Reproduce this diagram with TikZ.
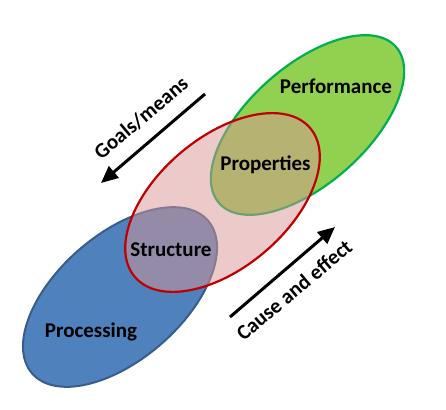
\documentclass[tikz,border=0pt]{standalone}
\usepackage{fontspec}
\setmainfont{Carlito}
\usetikzlibrary{shapes.geometric,arrows.meta}
\definecolor{perfgreen}{RGB}{146,208,80}
\definecolor{perfline}{RGB}{0,176,80}
\definecolor{procblue}{RGB}{79,129,189}
\definecolor{procline}{RGB}{56,93,138}
\definecolor{strucred}{RGB}{217,150,148}
\definecolor{strucline}{RGB}{192,0,0}
\tikzset{
  blob/.style={ellipse, inner sep=0pt, line width=2.2pt},
  lbl/.style={font=\fontsize{21}{25}\selectfont\bfseries, inner sep=0pt},
  bigarrow/.style={line width=3pt, -{Triangle[length=17pt,width=15pt]}}
}
\begin{document}
\begin{tikzpicture}[x=1pt,y=1pt]
\useasboundingbox (0,0) rectangle (446,409);
% ellipses
\node[blob, draw=perfline, fill=perfgreen, minimum width=236pt, minimum height=118pt, rotate=41.5] (perf) at (307.5,284) {};
\node[blob, draw=procline, line width=2pt, fill=procblue, minimum width=233pt, minimum height=125pt, rotate=41] (proc) at (120,112) {};
\node[blob, fill=strucred, fill opacity=0.5, minimum width=230pt, minimum height=130pt, rotate=40.3] (strucfill) at (222.5,206.5) {};
\node[blob, draw=strucline, minimum width=230pt, minimum height=130pt, rotate=40.3] (struc) at (222.5,206.5) {};
% labels
\node[lbl] (tperf) at (336,323) {Performance};
\node[lbl] (tprop) at (265.5,244) {Properties};
\node[lbl] (tstruc) at (171,159) {Structure};
\node[lbl] (tproc) at (91,77) {Processing};
% arrows
\coordinate (g1) at (205,315);
\coordinate (g2) at (101,226);
\coordinate (c1) at (230,92);
\coordinate (c2) at (335,182);
\draw[bigarrow] (g1) -- (g2);
\draw[bigarrow] (c1) -- (c2);
\node[lbl, rotate=40] (tgoals) at (141,291) {Goals/means};
\node[lbl, rotate=40] (tcause) at (294,119) {Cause and effect};
\end{tikzpicture}
\end{document}
